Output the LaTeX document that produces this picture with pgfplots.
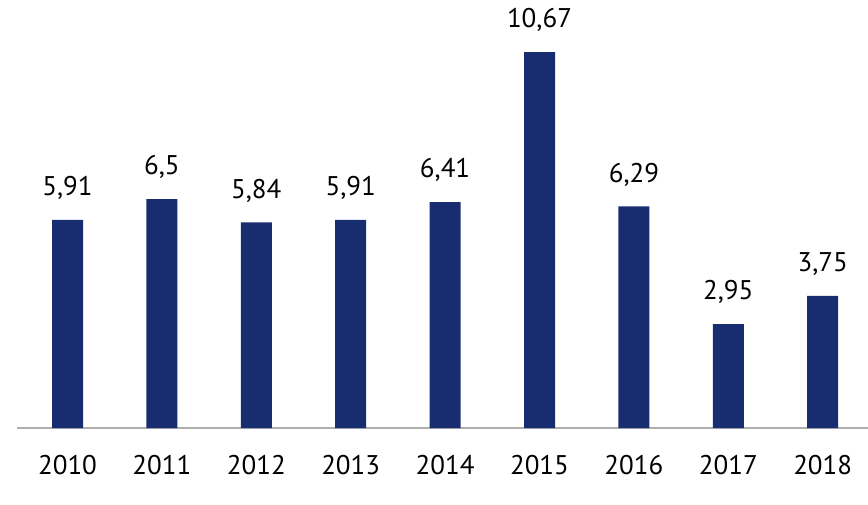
\documentclass[border=0pt]{standalone}
\usepackage{pgfplots}
\pgfplotsset{compat=1.18}
\usepackage{fontspec}
\setmainfont{PT Sans}
\definecolor{barblue}{RGB}{24,45,112}
\definecolor{axisgray}{RGB}{175,175,175}
\begin{document}
\begin{tikzpicture}
\path[use as bounding box] (-17pt,-76pt) rectangle (851pt,428pt);
\begin{axis}[
  anchor=south west, at={(0pt,0pt)},
  scale only axis,
  width=851pt, height=428pt,
  xmin=-0.535, xmax=8.48,
  ymin=0, ymax=12.15,
  clip=false,
  axis y line=none,
  axis x line*=bottom,
  x axis line style={-, draw=axisgray, line width=1.2pt},
  xtick={0,...,8},
  xticklabels={2010,2011,2012,2013,2014,2015,2016,2017,2018},
  major tick length=0pt,
  xticklabel style={anchor=north, inner sep=0pt, yshift=-27pt, font=\fontsize{27}{30}\selectfont},
  ybar, bar width=31pt, bar shift=0pt,
  nodes near coords,
  nodes near coords style={anchor=south, inner sep=0pt, yshift=24pt, text depth=0pt,
    font=\fontsize{27}{30}\selectfont, text=black,
    /pgf/number format/.cd, fixed, precision=2, use comma, assume math mode=true},
]
\addplot[fill=barblue, draw=none] coordinates {
  (0,5.91) (1,6.5) (2,5.84) (3,5.91) (4,6.41) (5,10.67) (6,6.29) (7,2.95) (8,3.75)
};
\end{axis}
\end{tikzpicture}
\end{document}
